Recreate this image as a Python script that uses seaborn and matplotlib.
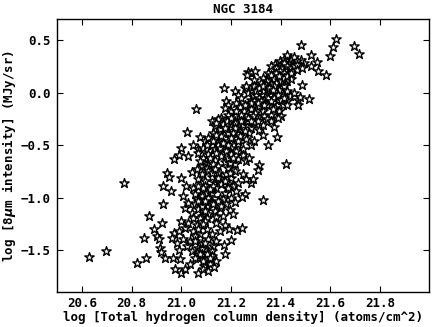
import matplotlib
matplotlib.use("Agg")
import matplotlib.pyplot as plt
import numpy as np
import pandas as pd
import seaborn as sns

# (log N_H, log I_8um) pairs, grouped by region
outliers = [(20.627, -1.563), (20.697, -1.509), (20.771, -0.861), (21.061, -0.152),
            (21.172, 0.041), (21.424, -0.677), (21.330, -1.019), (21.351, -0.500),
            (21.375, -0.326), (21.386, -0.418)]

top = [(21.484, 0.456), (21.612, 0.437), (21.623, 0.513), (21.695, 0.446), (21.716, 0.370),
       (21.599, 0.348), (21.524, 0.354), (21.548, 0.288), (21.522, 0.250), (21.495, 0.282),
       (21.482, 0.313), (21.397, 0.297), (21.413, 0.323), (21.428, 0.361), (21.442, 0.313),
       (21.455, 0.335), (21.468, 0.297), (21.402, 0.259), (21.418, 0.250), (21.435, 0.272),
       (21.452, 0.266), (21.378, 0.272), (21.362, 0.250), (21.415, 0.282), (21.428, 0.250),
       (21.442, 0.234), (21.455, 0.250), (21.468, 0.266), (21.402, 0.234), (21.382, 0.234)]

upper = [(21.269, 0.193), (21.282, 0.187), (21.298, 0.203), (21.263, 0.165), (21.329, 0.139),
         (21.349, 0.187), (21.362, 0.171), (21.382, 0.187), (21.399, 0.203), (21.415, 0.187),
         (21.431, 0.165), (21.448, 0.203), (21.466, 0.218), (21.375, 0.133), (21.395, 0.123),
         (21.413, 0.114), (21.428, 0.108), (21.442, 0.133), (21.346, 0.114), (21.322, 0.092),
         (21.362, 0.082), (21.488, 0.234), (21.486, 0.070), (21.552, 0.206), (21.585, 0.165),
         (21.295, 0.123), (21.389, 0.076), (21.415, 0.060), (21.382, 0.092), (21.402, 0.108),
         (21.415, 0.139), (21.428, 0.155), (21.442, 0.187), (21.395, 0.155), (21.342, 0.076)]

zero = [(21.216, 0.013), (21.229, -0.019), (21.242, -0.051), (21.255, 0.044), (21.269, -0.003),
        (21.285, 0.028), (21.302, -0.019), (21.315, -0.051), (21.329, 0.013), (21.346, 0.028),
        (21.362, -0.019), (21.378, 0.013), (21.395, 0.028), (21.409, -0.019), (21.426, 0.019),
        (21.439, -0.035), (21.455, -0.003), (21.282, -0.066), (21.335, -0.066), (21.389, -0.066),
        (21.428, -0.082), (21.472, -0.066), (21.515, -0.063), (21.478, -0.038), (21.262, 0.060),
        (21.295, 0.060), (21.375, 0.060), (21.355, -0.076), (21.302, 0.013), (21.315, 0.044),
        (21.329, 0.060), (21.355, 0.044), (21.369, 0.028), (21.349, -0.051), (21.375, -0.051),
        (21.389, -0.019), (21.402, -0.066), (21.415, -0.051), (21.295, -0.082), (21.322, -0.082),
        (21.362, -0.082)]

mid_high = [(21.182, -0.082), (21.189, -0.114), (21.176, -0.146), (21.202, -0.177), (21.222, -0.098),
            (21.236, -0.139), (21.253, -0.177), (21.269, -0.114), (21.282, -0.152), (21.298, -0.193),
            (21.315, -0.130), (21.329, -0.171), (21.346, -0.114), (21.362, -0.209), (21.378, -0.146),
            (21.395, -0.177), (21.409, -0.120), (21.402, -0.225), (21.369, -0.161), (21.428, -0.114),
            (21.471, -0.114), (21.189, -0.209), (21.216, -0.225), (21.262, -0.225), (21.309, -0.234),
            (21.335, -0.225), (21.282, -0.098), (21.309, -0.098), (21.335, -0.114), (21.255, -0.114),
            (21.242, -0.209), (21.222, -0.177), (21.289, -0.225), (21.162, -0.241),
            (21.122, -0.272), (21.136, -0.320), (21.149, -0.256), (21.156, -0.351), (21.169, -0.297),
            (21.186, -0.272), (21.202, -0.329), (21.218, -0.288), (21.236, -0.361), (21.249, -0.304),
            (21.266, -0.272), (21.282, -0.335), (21.295, -0.288), (21.314, -0.358), (21.329, -0.304),
            (21.346, -0.256), (21.362, -0.272), (21.389, -0.241), (21.129, -0.383), (21.189, -0.383),
            (21.229, -0.392), (21.275, -0.383), (21.023, -0.377), (21.329, -0.408), (21.202, -0.241),
            (21.216, -0.335), (21.242, -0.272), (21.269, -0.241), (21.309, -0.272), (21.282, -0.272),
            (21.255, -0.367), (21.176, -0.335), (21.142, -0.288), (21.209, -0.383)]

mid = [(21.077, -0.424), (21.096, -0.462), (21.109, -0.430), (21.122, -0.494), (21.136, -0.541),
       (21.149, -0.456), (21.162, -0.415), (21.176, -0.509), (21.189, -0.462), (21.202, -0.525),
       (21.216, -0.430), (21.229, -0.487), (21.249, -0.541), (21.262, -0.446), (21.282, -0.500),
       (21.295, -0.462), (21.049, -0.494), (21.069, -0.541), (21.001, -0.528), (21.142, -0.405),
       (21.236, -0.415), (21.202, -0.430), (21.189, -0.494), (21.229, -0.462), (21.149, -0.494),
       (21.129, -0.462), (21.089, -0.525), (21.102, -0.494), (21.156, -0.525), (21.169, -0.478),
       (21.222, -0.557), (21.182, -0.557),
       (20.969, -0.630), (20.989, -0.592), (21.027, -0.608), (21.069, -0.573), (21.089, -0.620),
       (21.102, -0.677), (21.122, -0.589), (21.136, -0.646), (21.149, -0.699), (21.162, -0.604),
       (21.176, -0.658), (21.189, -0.620), (21.202, -0.582), (21.216, -0.684), (21.229, -0.636),
       (21.249, -0.595), (21.262, -0.652), (21.275, -0.620), (21.315, -0.693), (21.083, -0.699),
       (21.189, -0.715), (21.109, -0.582), (21.076, -0.652), (21.116, -0.620), (21.129, -0.684),
       (21.142, -0.573), (21.196, -0.668), (21.209, -0.620), (21.102, -0.715)]

mid_low = [(20.944, -0.763), (20.949, -0.804), (21.000, -0.816), (21.045, -0.756), (21.063, -0.731),
           (21.083, -0.778), (21.096, -0.842), (21.109, -0.747), (21.122, -0.804), (21.136, -0.858),
           (21.149, -0.763), (21.162, -0.826), (21.180, -0.778), (21.202, -0.810), (21.216, -0.747),
           (21.229, -0.858), (21.249, -0.778), (21.262, -0.826), (21.282, -0.858), (21.311, -0.741),
           (21.291, -0.826), (21.069, -0.826), (21.189, -0.867), (21.122, -0.763), (21.136, -0.731),
           (21.149, -0.810), (21.162, -0.873), (21.176, -0.842), (21.196, -0.763), (21.209, -0.889),
           (20.925, -0.892), (20.960, -0.937), (21.009, -0.987), (21.020, -0.892), (21.049, -0.905),
           (21.069, -0.937), (21.083, -0.984), (21.096, -0.889), (21.109, -1.016), (21.122, -0.953),
           (21.142, -0.905), (21.156, -1.000), (21.176, -0.953), (21.189, -0.905), (21.202, -1.000),
           (21.222, -0.937), (21.255, -0.968), (21.244, -0.991), (21.063, -1.016), (21.129, -0.889),
           (21.169, -1.016), (21.089, -0.905), (21.102, -0.953), (21.116, -0.921), (21.056, -0.968),
           (21.069, -0.889), (21.109, -1.000)]

low = [(20.928, -1.060), (21.016, -1.095), (21.029, -1.047), (21.043, -1.142), (21.056, -1.063),
       (21.069, -1.111), (21.085, -1.174), (21.102, -1.079), (21.109, -1.158), (21.122, -1.047),
       (21.136, -1.127), (21.156, -1.095), (21.169, -1.174), (21.182, -1.063), (21.196, -1.120),
       (21.216, -1.038), (21.209, -1.158), (21.049, -1.190), (21.089, -1.047), (21.142, -1.184),
       (21.069, -1.032), (21.083, -1.079), (21.096, -1.127), (21.129, -1.063), (21.149, -1.032),
       (21.162, -1.079), (21.096, -1.032), (21.076, -1.190), (21.102, -1.190),
       (20.871, -1.174), (20.892, -1.301), (20.921, -1.241), (20.972, -1.339), (21.000, -1.222),
       (21.016, -1.285), (21.029, -1.237), (21.049, -1.316), (21.063, -1.259), (21.096, -1.222),
       (21.102, -1.301), (21.122, -1.348), (21.142, -1.237), (21.156, -1.316), (21.176, -1.259),
       (21.193, -1.301), (21.224, -1.310), (21.246, -1.285), (20.989, -1.316), (21.076, -1.348),
       (21.089, -1.253), (21.069, -1.301)]

bottom = [(20.852, -1.383), (20.902, -1.367), (20.912, -1.389), (20.915, -1.475), (20.963, -1.380),
          (20.983, -1.427), (21.009, -1.396), (21.023, -1.459), (21.036, -1.411), (21.069, -1.475),
          (21.083, -1.427), (21.096, -1.491), (21.109, -1.396), (21.129, -1.459), (21.142, -1.411),
          (21.173, -1.453), (21.200, -1.402), (20.991, -1.497), (21.056, -1.364), (21.122, -1.506),
          (21.056, -1.411), (21.083, -1.491), (21.096, -1.427), (21.043, -1.506),
          (20.820, -1.620), (20.858, -1.576), (20.919, -1.513), (20.936, -1.573), (20.968, -1.573),
          (20.976, -1.680), (20.996, -1.585), (21.001, -1.712), (21.016, -1.674), (21.036, -1.633),
          (21.067, -1.712), (21.069, -1.570), (21.083, -1.538), (21.092, -1.649), (21.102, -1.585),
          (21.116, -1.633), (21.130, -1.658), (21.122, -1.554), (21.142, -1.601), (21.177, -1.538),
          (21.063, -1.522), (21.089, -1.680), (21.109, -1.696), (21.076, -1.538), (21.089, -1.601),
          (21.102, -1.538), (21.116, -1.570), (21.056, -1.570)]

df = pd.DataFrame(outliers + top + upper + zero + mid_high + mid + mid_low + low + bottom,
                  columns=["log_nh", "log_i8"])

sns.set_style("ticks")
plt.rcParams["font.family"] = ["DejaVu Sans Mono"]
plt.rcParams["font.weight"] = "bold"
plt.rcParams["font.size"] = 9
for key in ["text.color", "axes.labelcolor", "xtick.color", "ytick.color", "axes.edgecolor"]:
    plt.rcParams[key] = "black"

fig, ax = plt.subplots(figsize=(4.36, 3.27), dpi=100)
fig.subplots_adjust(left=0.131, right=0.985, bottom=0.106, top=0.942)

sns.scatterplot(data=df, x="log_nh", y="log_i8", marker="*", s=50,
                color="white", edgecolor="black", linewidth=1.0, ax=ax)

ax.set_xlim(20.5, 22.0)
ax.set_ylim(-1.9, 0.7)
ax.set_xticks([20.6, 20.8, 21.0, 21.2, 21.4, 21.6, 21.8])
ax.set_yticks([-1.5, -1.0, -0.5, 0.0, 0.5])
ax.tick_params(direction="in", top=True, right=True, length=4, width=0.8, labelsize=9)
ax.tick_params(axis="x", pad=3)
ax.tick_params(axis="y", pad=4.5)
for sp in ax.spines.values():
    sp.set_linewidth(1.0)

ax.set_title("NGC 3184", fontsize=9, fontweight="bold", pad=4)
ax.set_xlabel("log [Total hydrogen column density] (atoms/cm^2)", fontsize=9, fontweight="bold", labelpad=1)
ax.set_ylabel("log [8$\\mu$m intensity] (MJy/sr)", fontsize=9, fontweight="bold", labelpad=2)

fig.savefig("out.png", dpi=100)
